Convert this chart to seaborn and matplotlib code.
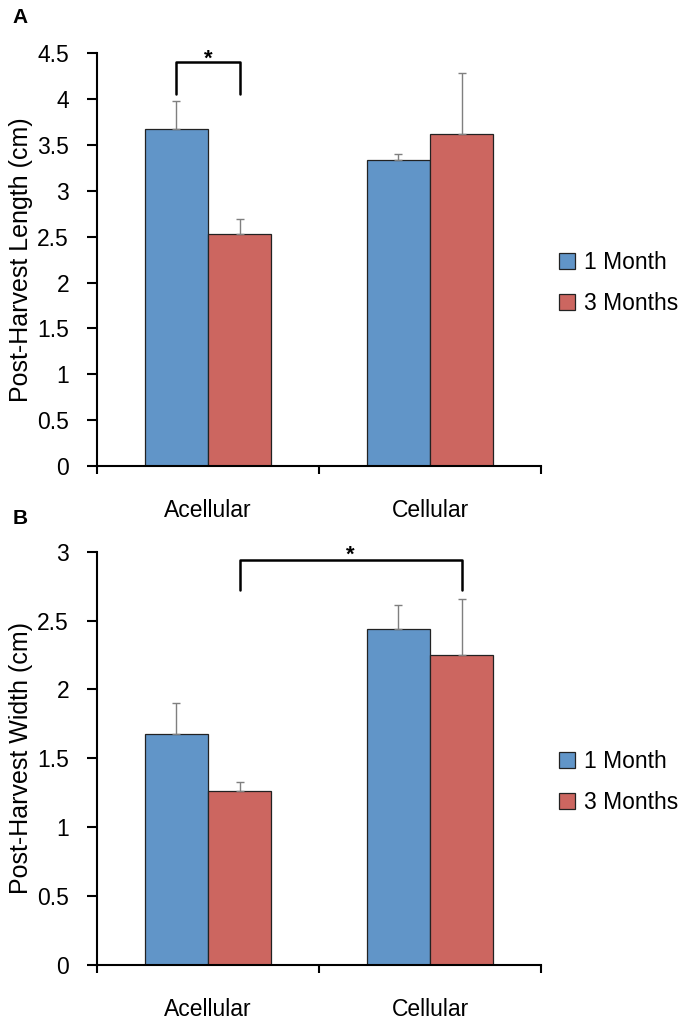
import matplotlib
matplotlib.use("Agg")
import matplotlib.pyplot as plt
import seaborn as sns
import pandas as pd
import numpy as np
from matplotlib.patches import Patch

sns.set_theme(style="white")
plt.rcParams['font.family'] = ['Liberation Sans', 'DejaVu Sans']
plt.rcParams['text.color'] = 'black'
plt.rcParams['axes.labelcolor'] = 'black'
plt.rcParams['xtick.color'] = 'black'
plt.rcParams['ytick.color'] = 'black'

categories = ["Acellular", "Cellular"]
groups = ["1 Month", "3 Months"]
length_1m = [3.67, 3.34]
length_3m = [2.53, 3.62]
length_err_1m = [0.31, 0.06]
length_err_3m = [0.16, 0.66]
width_1m = [1.68, 2.44]
width_3m = [1.26, 2.25]
width_err_1m = [0.22, 0.17]
width_err_3m = [0.07, 0.41]

colors = ["#6195C8", "#CC6660"]
TICK_FS = 16.5

fig = plt.figure(figsize=(6.92, 10.23), dpi=100)
ax1 = fig.add_axes([0.140, 0.5445, 0.642, 0.4035])
ax2 = fig.add_axes([0.140, 0.0567, 0.642, 0.404])


def draw(ax, v1, v2, e1, e2, ymax, ystep, ylabel):
    df = pd.DataFrame({
        "cat": categories * 2,
        "grp": [groups[0]] * 2 + [groups[1]] * 2,
        "val": list(v1) + list(v2),
    })
    sns.barplot(data=df, x="cat", y="val", hue="grp", hue_order=groups,
                order=categories, palette=colors, width=0.57, ax=ax,
                edgecolor="#222222", linewidth=0.9, errorbar=None, legend=False,
                saturation=1)
    errs = list(e1) + list(e2)
    vals = list(v1) + list(v2)
    patches = ax.patches[:4]
    xs = [p.get_x() + p.get_width() / 2 for p in patches]
    ax.errorbar(xs, vals, yerr=[[0] * 4, errs], fmt="none", ecolor="#7f7f7f",
                elinewidth=1.0, capsize=3, capthick=1.0)
    ax.set_xlim(-0.5, 1.5)
    ax.set_ylim(0, ymax)
    ticks = np.arange(0, ymax + 1e-9, ystep)
    ax.set_yticks(ticks)
    ax.set_yticklabels([f"{t:g}" for t in ticks], fontsize=TICK_FS)
    ax.set_xticks([-0.5, 0.5, 1.5])
    ax.set_xticklabels(["", "", ""])
    ax.set_xticks([0, 1], minor=True)
    ax.set_xticklabels(categories, minor=True, fontsize=TICK_FS)
    ax.tick_params(axis="x", which="major", bottom=True, direction="out", length=6,
                   width=1.5, color="black")
    ax.tick_params(axis="x", which="minor", bottom=True, length=0, pad=24)
    ax.tick_params(axis="y", left=True, direction="out", length=7, width=1.5,
                   color="black", pad=13)
    ax.set_xlabel("")
    ax.set_ylabel(ylabel, fontsize=18, labelpad=3)
    for s in ["top", "right"]:
        ax.spines[s].set_visible(False)
    for s in ["left", "bottom"]:
        ax.spines[s].set_color("black")
        ax.spines[s].set_linewidth(1.5)
    handles = [Patch(facecolor=colors[0], edgecolor="#222222", linewidth=0.9),
               Patch(facecolor=colors[1], edgecolor="#222222", linewidth=0.9)]
    ax.legend(handles, groups, loc="center left", bbox_to_anchor=(1.02, 0.443),
              frameon=False, fontsize=TICK_FS, handlelength=0.7, handleheight=0.7,
              handletextpad=0.4, labelspacing=0.8, borderaxespad=0.0)
    return xs


xs1 = draw(ax1, length_1m, length_3m, length_err_1m, length_err_3m, 4.5, 0.5,
           "Post-Harvest Length (cm)")
xs2 = draw(ax2, width_1m, width_3m, width_err_1m, width_err_3m, 3, 0.5,
           "Post-Harvest Width (cm)")

ax1.plot([xs1[0], xs1[0], xs1[2], xs1[2]], [4.05, 4.4, 4.4, 4.05], color="black",
         lw=1.8, clip_on=False)
ax1.text((xs1[0] + xs1[2]) / 2, 4.37, "*", ha="center", va="baseline", fontsize=16,
         fontweight="bold", clip_on=False)
ax2.plot([xs2[2], xs2[2], xs2[3], xs2[3]], [2.72, 2.94, 2.94, 2.72], color="black",
         lw=1.8, clip_on=False)
ax2.text((xs2[2] + xs2[3]) / 2, 2.935, "*", ha="center", va="baseline", fontsize=16,
         fontweight="bold", clip_on=False)

fig.text(0.018, 0.983, "A", fontsize=15, fontweight="bold", va="center")
fig.text(0.018, 0.493, "B", fontsize=15, fontweight="bold", va="center")

fig.savefig("out.png", dpi=100, facecolor="white")
